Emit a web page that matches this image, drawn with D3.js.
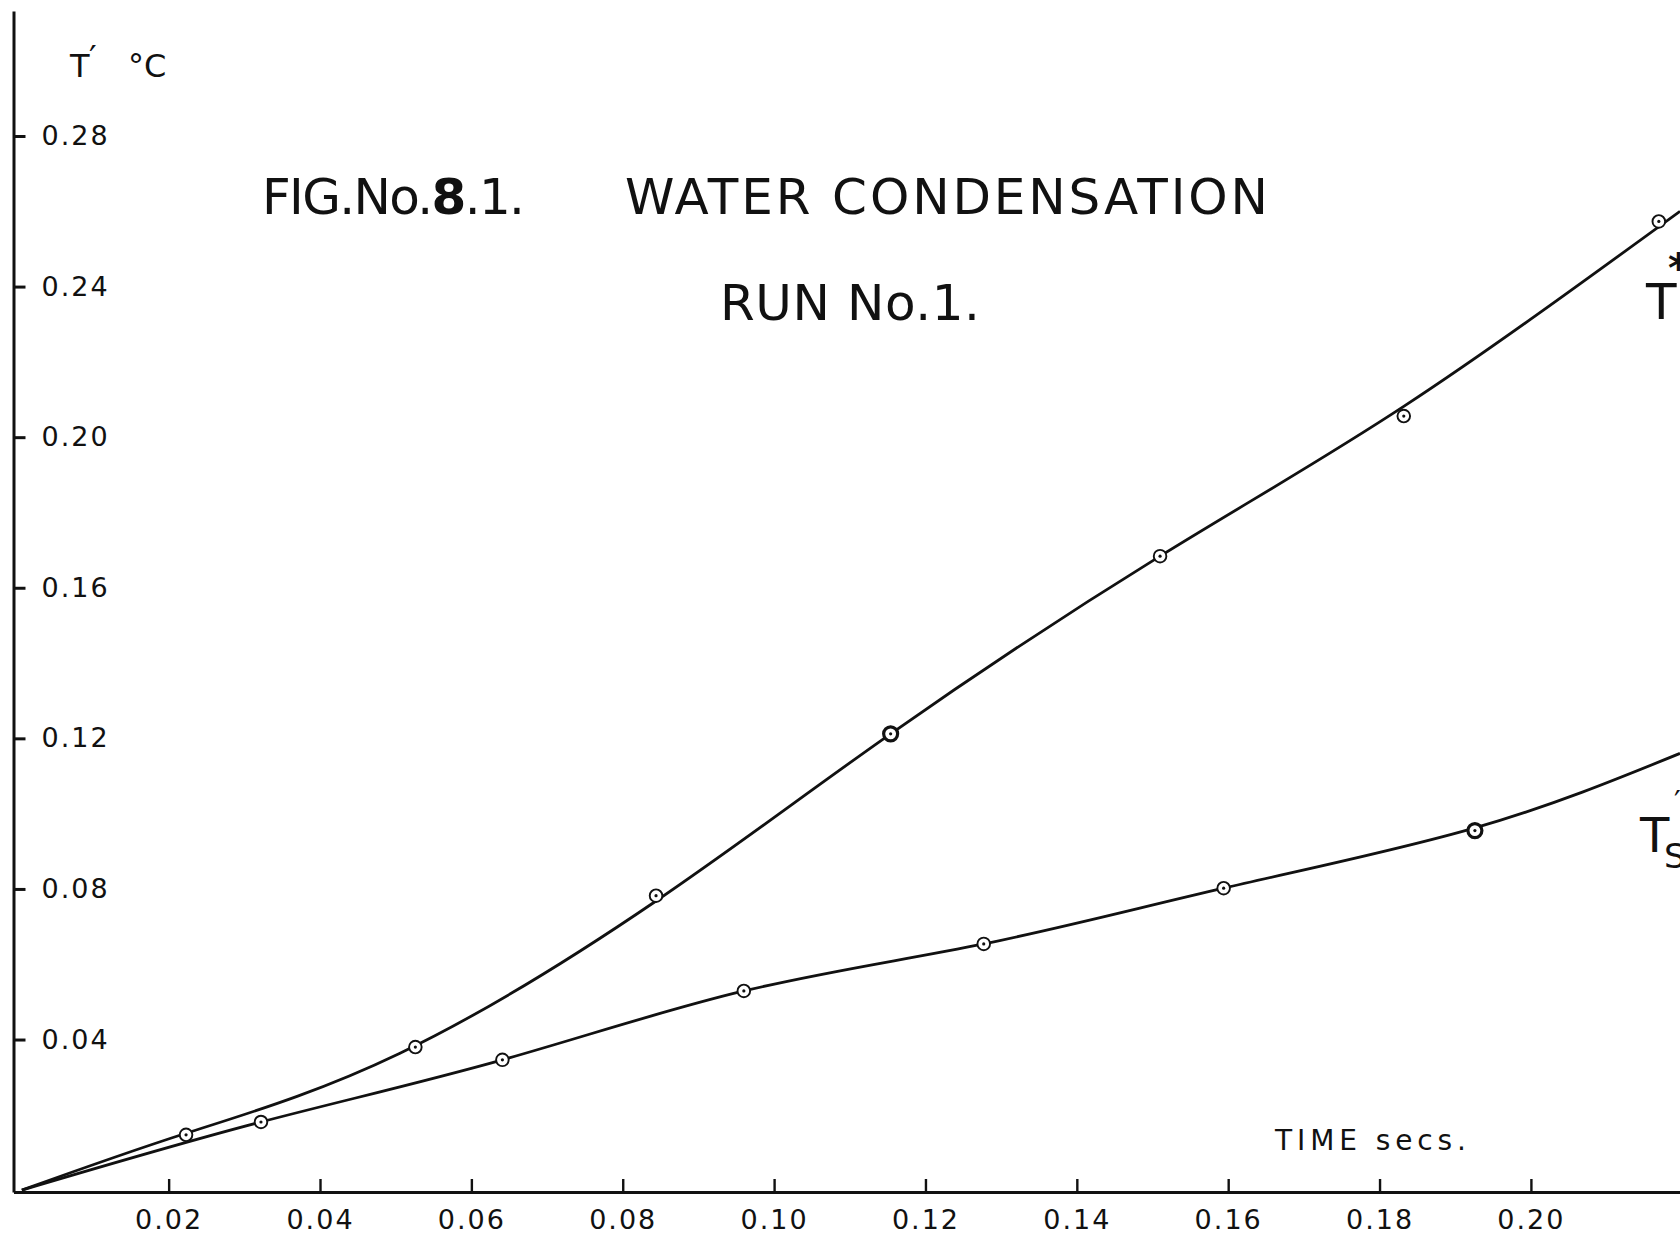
<!DOCTYPE html>
<html>
<head>
<meta charset="utf-8">
<script src="https://cdn.jsdelivr.net/npm/d3@7"></script>
<style>
  body { margin: 0; background: #fff; }
  svg { display: block; }
  text { font-family: "DejaVu Sans", sans-serif; fill: #111; }
</style>
</head>
<body>
<div id="chart"></div>
<script>
// measured points, T* (upper curve)
let upperX = [0.0223, 0.0526, 0.0844, 0.1154, 0.1510, 0.1832, 0.2169];
let upperY = [0.0147, 0.0380, 0.0782, 0.1212, 0.1684, 0.2056, 0.2573];
// hand-drawn line through them
let upperLineX = [0.0006, 0.0223, 0.0505, 0.0844, 0.1154, 0.1510, 0.1833, 0.2197];
let upperLineY = [0, 0.0151, 0.0363, 0.0768, 0.1212, 0.1684, 0.2083, 0.2600];

// measured points, Ts (lower curve)
let lowerX = [0.0322, 0.0641, 0.0960, 0.1277, 0.1594, 0.1926];
let lowerY = [0.0181, 0.0346, 0.0529, 0.0654, 0.0802, 0.0955];
let lowerLineX = [0.0006, 0.0322, 0.0641, 0.0960, 0.1277, 0.1594, 0.1926, 0.2197];
let lowerLineY = [0, 0.0181, 0.0346, 0.0529, 0.0654, 0.0802, 0.0962, 0.1160];

let xTicks = [0.02, 0.04, 0.06, 0.08, 0.10, 0.12, 0.14, 0.16, 0.18, 0.20];
let yTicks = [0.04, 0.08, 0.12, 0.16, 0.20, 0.24, 0.28];

let width = 1680, height = 1241;

let svg = d3.select("#chart").append("svg")
    .attr("width", width)
    .attr("height", height);

let xScale = d3.scaleLinear()
    .domain([-0.0005, 0.2197])
    .range([13.5, 1680]);

let yScale = d3.scaleLinear()
    .domain([-0.0005, 0.3132])
    .range([1192, 11]);

// y axis, ticks point right into the plot
svg.append("g")
    .attr("class", "yaxis")
    .attr("transform", "translate(" + xScale(-0.0005) + ",0)")
    .call(d3.axisRight(yScale)
        .tickValues(yTicks)
        .tickSizeInner(12)
        .tickSizeOuter(0)
        .tickPadding(16)
        .tickFormat(d3.format(".2f")));

// x axis, ticks point up, labels below
svg.append("g")
    .attr("class", "xaxis")
    .attr("transform", "translate(0," + yScale(-0.0005) + ")")
    .call(d3.axisBottom(xScale)
        .tickValues(xTicks)
        .tickSizeInner(-13)
        .tickSizeOuter(0)
        .tickPadding(18)
        .tickFormat(d3.format(".2f")));

svg.selectAll(".domain").attr("stroke", "#111").attr("stroke-width", 3);
svg.selectAll(".yaxis .tick line").attr("stroke", "#111").attr("stroke-width", 3);
svg.selectAll(".xaxis .tick line").attr("stroke", "#111").attr("stroke-width", 2.4);
svg.selectAll(".tick text")
    .style("font-family", "DejaVu Sans, sans-serif")
    .style("font-size", "27px")
    .style("letter-spacing", "2px")
    .attr("fill", "#111");

let line = d3.line()
    .x(function(d) { return xScale(d[0]); })
    .y(function(d) { return yScale(d[1]); })
    .curve(d3.curveNatural);

function drawSeries(lineX, lineY, px, py, heavy) {
    let lineData = lineX.map(function(x, i) { return [x, lineY[i]]; });
    svg.append("path")
        .datum(lineData)
        .attr("d", line)
        .style("fill", "none")
        .style("stroke", "#111")
        .style("stroke-width", "2.8");

    let pts = px.map(function(x, i) { return [x, py[i]]; });
    svg.selectAll()
        .data(pts)
        .enter().append("circle")
        .attr("cx", function(d) { return xScale(d[0]); })
        .attr("cy", function(d) { return yScale(d[1]); })
        .attr("r", function(d, i) { return heavy.indexOf(i) >= 0 ? 7 : 6.3; })
        .style("fill", "#fff")
        .style("stroke", "#111")
        .style("stroke-width", function(d, i) { return heavy.indexOf(i) >= 0 ? 3.2 : 1.9; });

    svg.selectAll()
        .data(pts)
        .enter().append("circle")
        .attr("cx", function(d) { return xScale(d[0]); })
        .attr("cy", function(d) { return yScale(d[1]); })
        .attr("r", 1.6)
        .style("fill", "#111");
}

drawSeries(upperLineX, upperLineY, upperX, upperY, [3]);
drawSeries(lowerLineX, lowerLineY, lowerX, lowerY, [5]);

// axis captions
svg.append("text").attr("x", 70).attr("y", 77)
    .style("font-size", "32px").text("T");
svg.append("text").attr("x", 89).attr("y", 70)
    .style("font-size", "34px").text("′");
svg.append("text").attr("x", 128).attr("y", 77)
    .style("font-size", "32px").text("°C");

svg.append("text").attr("x", 1275).attr("y", 1150)
    .attr("textLength", 191).attr("lengthAdjust", "spacing")
    .style("font-size", "28px").text("TIME secs.");

// titles
let t1 = svg.append("text").attr("x", 262).attr("y", 214)
    .attr("textLength", 263).attr("lengthAdjust", "spacing")
    .style("font-size", "50px");
t1.append("tspan").text("FIG.No.");
t1.append("tspan").style("font-weight", "bold").text("8");
t1.append("tspan").text(".1.");

svg.append("text").attr("x", 625).attr("y", 214)
    .attr("textLength", 643).attr("lengthAdjust", "spacing")
    .style("font-size", "50px").text("WATER CONDENSATION");

svg.append("text").attr("x", 720).attr("y", 320)
    .attr("textLength", 260).attr("lengthAdjust", "spacing")
    .style("font-size", "50px").text("RUN No.1.");

// curve labels, cut by the page edge as in the original sheet
svg.append("text").attr("x", 1646).attr("y", 319)
    .style("font-size", "50px").text("T");
svg.append("text").attr("x", 1668).attr("y", 282)
    .style("font-size", "40px").style("font-weight", "bold").text("*");

svg.append("text").attr("x", 1640).attr("y", 852)
    .style("font-size", "48px").text("T");
svg.append("text").attr("x", 1664).attr("y", 868)
    .style("font-size", "34px").text("S");
svg.append("text").attr("x", 1674).attr("y", 812)
    .style("font-size", "30px").text("′");
</script>
</body>
</html>
